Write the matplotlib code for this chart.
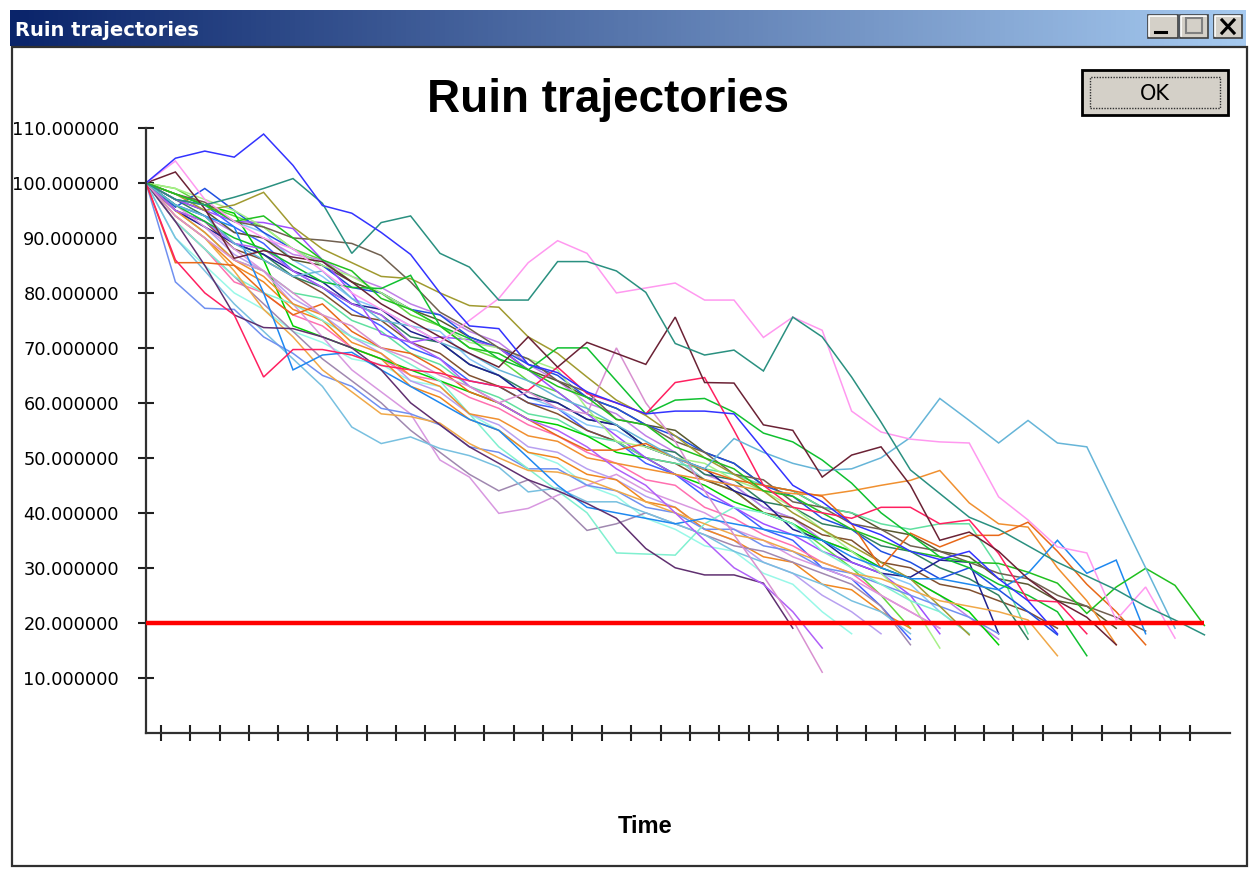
import numpy as np
import matplotlib.pyplot as plt
from matplotlib.patches import Rectangle
from matplotlib.lines import Line2D

plt.rcParams['font.family'] = ['Liberation Sans', 'DejaVu Sans']

W, H = 1250, 869

# trajectories, one value per time step, each stops at its first value below the ruin level
aqua2 = [100, 90, 85, 80, 77, 73, 71, 68, 67, 64, 63, 58, 55, 51, 49, 45, 43, 39, 37, 34, 33, 29, 27, 22, 18]
lavender = [100, 95, 92, 87, 84, 79, 76, 72, 69, 64, 62, 58, 56, 52, 51, 48, 46, 43, 41, 37, 35, 31, 29, 25, 22, 18]
limegreen = [100, 99, 96, 94, 92, 88, 86, 82, 80, 76, 74, 70, 68, 64, 62, 58, 56, 52, 50, 46, 44, 40, 38, 34, 30, 25, 19]
orange3 = [100, 94, 90, 85, 82, 77, 75, 70, 68, 63, 61, 57, 55, 51, 50, 47, 46, 42, 41, 37, 35, 32, 31, 27, 26, 22, 19]
blue3 = [100, 97, 96, 92, 89, 84, 81, 77, 74, 70, 68, 64, 63, 60, 59, 55, 53, 49, 47, 43, 41, 37, 35, 30, 28, 23, 17]
hotpink = [100, 93, 88, 82, 80, 76, 74, 70, 68, 65, 64, 61, 59, 56, 54, 51, 49, 46, 45, 41, 39, 36, 34, 31, 29, 25, 22, 19]
paleblue = [100, 98, 96, 93, 91, 86, 83, 79, 77, 74, 73, 68, 65, 61, 59, 56, 55, 52, 50, 46, 45, 41, 39, 35, 33, 29, 27, 22, 18]
violet = [100, 96, 94, 91, 90, 87, 86, 83, 81, 78, 76, 73, 71, 67, 64, 60, 58, 54, 51, 47, 45, 41, 39, 35, 33, 30, 28, 25, 21, 17]
brown = [100, 95, 93, 88, 86, 83, 80, 76, 75, 71, 69, 65, 63, 60, 58, 55, 53, 50, 49, 46, 44, 40, 39, 36, 35, 31, 30, 27, 26, 24, 22, 19]
seagreen = [100, 97, 94, 89, 87, 83, 81, 78, 76, 72, 71, 67, 65, 62, 60, 57, 56, 52, 51, 47, 46, 42, 41, 38, 37, 34, 33, 30, 28, 25, 17]
darkolive = [100, 97, 95, 91, 90, 86, 85, 82, 80, 77, 75, 72, 70, 66, 64, 61, 59, 56, 55, 51, 49, 45, 44, 41, 40, 37, 36, 33, 32, 28, 27, 24, 23, 19]
mint2 = [100, 95, 91, 86, 84, 80, 79, 75, 73, 69, 67, 63, 61, 58, 57, 54, 53, 50, 49, 48, 47, 45, 44, 41, 40, 38, 37, 38, 38, 30, 18]
navy = [100, 95, 92, 89, 87, 84, 82, 78, 77, 73, 71, 67, 65, 61, 60, 57, 56, 52, 50, 48, 44, 42, 37, 35, 31, 29, 28.3, 31.4, 31, 18]
blue2 = [100, 95.6, 99, 95, 91, 88, 85, 81, 80, 77, 76, 72, 70, 67, 65, 61, 59, 56, 54, 51, 49, 45, 43, 39, 37, 33, 31, 28, 30, 26, 22, 17.8]
green3 = [100, 98, 96, 94.5, 86, 74, 72, 70, 68, 66, 64, 62, 60, 57, 56, 54, 51, 50, 47, 45, 42, 40, 38, 35, 33, 30, 28, 25, 22, 16]
purple2 = [100, 97, 95, 93, 92.8, 91.7, 86, 80, 72.5, 71, 72, 71.5, 70, 66, 62, 58, 54, 50, 47, 44, 41, 38, 36, 33, 31, 29, 25, 18]
lightgreen = [100, 99, 97, 95, 92, 88, 85, 83, 80, 77, 74, 71, 70, 68, 66, 59, 53, 52, 50, 49, 46, 44, 41, 37, 33, 29, 24, 15.4]
mauve = [100, 93, 88, 83, 78, 73, 68, 64, 60, 55, 51, 47, 44, 46, 42, 36.8, 38, 40, 38, 36, 34, 33, 31, 29, 27, 23, 16]
orchid_low = [100, 96, 92, 88, 84, 78, 72, 66, 62, 58, 49.6, 46.5, 39.9, 40.8, 43.2, 45, 47, 44, 42, 40, 37, 35, 32, 30, 28, 25, 22, 19]
lightblue_low = [100, 90, 84, 78, 73, 68, 63, 55.6, 52.6, 53.8, 51.7, 50.4, 48.3, 43.8, 44.5, 42, 42, 40, 38, 36, 33, 31, 29, 27, 24, 22, 18]
cornflower = [100, 82, 77.2, 77, 72, 69, 65, 63, 59, 58, 56, 52, 51, 48, 48, 45, 44, 41, 40, 37, 37, 34, 33, 30, 29, 27, 25, 23, 21, 18]
aqua = [100, 93, 88, 83, 80, 78, 75, 72, 70, 67, 64, 58, 52, 48, 44, 40, 32.7, 32.5, 32.3, 38, 41, 40, 38, 33, 30, 27, 24, 22, 18]
graybrown = [100, 98, 96.5, 93, 92, 90, 89.6, 89, 86.8, 82, 76.5, 73.5, 70, 68, 64, 62, 57, 56, 53, 51, 47, 46, 42, 41, 38, 37, 34, 33, 31, 29, 28, 25, 23, 21, 18.5]
olive = [100, 98, 95, 96, 98.3, 92, 88, 85.5, 83, 82.6, 80, 77.7, 77.4, 72, 69, 64.7, 60.5, 57.7, 54, 50, 47, 44, 40, 37, 34, 31, 28, 23, 17.8]
orange2 = [100, 94, 90, 84, 77, 72, 66, 62, 58, 57.5, 56.3, 52.6, 50, 47.7, 47.4, 46, 44, 42, 40, 38, 36, 35, 33, 31, 29, 28, 26, 24, 23, 22, 20.5, 14]
orange_light = [100, 95, 91, 86, 83, 78, 76, 71, 69, 65, 63, 58, 57, 54, 53, 50, 49, 48, 47, 46, 45, 44, 43.5, 43.2, 44, 45, 45.9, 47.7, 41.8, 38, 37.4, 30, 24, 16]
orange_dark = [100, 85.5, 85.5, 85, 80, 76, 78, 73, 70, 69, 66, 62, 60, 57, 54, 51.4, 51.4, 52.6, 50, 47.8, 46, 45, 44, 43, 38, 30, 36.3, 33.8, 35.9, 35.9, 38.3, 33, 27, 22, 16]
skyblue = [100, 96, 94, 92, 80, 66, 68.7, 69.2, 66, 63, 60, 57, 55, 50, 45, 41, 40, 39, 38, 39, 38, 37, 36, 35, 32, 30, 28, 28, 27, 26, 29, 35, 29, 31.4, 18]
darkpurple = [100, 93, 85, 76, 73.7, 73.5, 72, 70, 66, 60, 56, 52, 49, 46, 44, 41.7, 39, 33.5, 30, 28.7, 28.7, 27.2, 19]
purple_steep = [100, 95, 93, 89, 88, 84, 81, 78, 76, 71, 68, 63, 60, 57, 55, 52, 48, 45, 40, 35, 30, 27, 22, 15.4]
orchid_steep = [100, 94, 90, 86, 84, 80, 76, 74, 70, 68, 65, 63, 60, 62, 59, 58, 70, 60, 53, 44, 36, 28.5, 20.5, 11]
green_mid = [100, 96, 93, 90, 88, 85, 82, 81, 80.8, 83.2, 74, 71.7, 68, 66, 70, 70, 64, 58, 60.5, 60.8, 58.3, 54.5, 52.9, 49.6, 45.4, 40, 36, 32, 30, 27, 25, 22, 14]
green_end = [100, 98, 96, 93, 94, 90, 86, 84, 79, 77, 74, 70, 69, 66, 63, 61, 57, 56, 52, 50, 48, 44, 43, 40, 37, 35, 33, 32, 31, 30.8, 29.2, 27.2, 21.7, 26.5, 29.9, 26.8, 19.5]
crimson = [100, 86, 80, 76, 64.7, 69.7, 69.7, 68.7, 66.8, 66, 65.4, 64, 63, 62.3, 66.5, 61.7, 60, 58, 63.7, 64.6, 55, 45, 41, 40, 39, 41, 41, 38, 38.7, 32.6, 24.1, 23.8, 18]
lightblue_late = [100, 96, 94, 89, 86, 83, 84, 79, 75, 74, 71, 69, 66, 64, 61, 59, 56, 53, 50, 48, 53.5, 51, 49, 47.7, 48, 50, 53.7, 60.8, 56.8, 52.7, 56.8, 52.7, 52, 41, 30, 19]
maroon = [100, 102, 95.3, 86.3, 87.7, 86.5, 85.7, 82, 78, 75, 72, 69, 66.5, 72, 66.5, 71, 69, 67, 75.6, 63.7, 63.6, 56, 55, 46.5, 50.5, 52, 45, 35, 36.5, 33, 28, 24, 21, 16]
pink_high = [100, 104, 97, 93, 90, 88, 84, 80, 77, 74, 71, 75, 79, 85.5, 89.5, 87.2, 80, 80.9, 81.8, 78.7, 78.7, 71.9, 75.6, 73.2, 58.5, 54.7, 53.4, 52.9, 52.7, 42.9, 38.7, 33.8, 32.7, 20.5, 26.5, 17.2]
teal = [100, 97, 96, 97.4, 99, 100.8, 96.3, 87.2, 92.8, 94, 87.2, 84.7, 78.7, 78.7, 85.7, 85.7, 84, 80.1, 70.8, 68.7, 69.6, 65.8, 75.6, 72, 64.7, 56.5, 47.8, 43.5, 39.2, 37, 34, 31, 28.5, 26, 23, 20.5, 17.8]
blue_top = [100, 104.5, 105.8, 104.7, 108.9, 103.2, 95.9, 94.5, 91, 87, 80, 74, 73.5, 67, 65.5, 62, 60, 58, 58.5, 58.5, 58, 51.5, 45, 42, 38, 36, 33, 31.5, 33, 28, 24, 18]

ruin_level = 20
n_steps = 36
y_ticks = [10, 20, 30, 40, 50, 60, 70, 80, 90, 100, 110]

trajectories = [aqua2, lavender, limegreen, orange3, blue3, hotpink, paleblue, violet, brown,
                seagreen, darkolive, mint2, navy, blue2, green3, purple2, lightgreen, mauve,
                orchid_low, lightblue_low, cornflower, aqua, graybrown, olive, orange2,
                orange_light, orange_dark, skyblue, darkpurple, purple_steep, orchid_steep,
                green_mid, green_end, crimson, lightblue_late, maroon, pink_high, teal, blue_top]
colors = ['#98f8e8', '#b8a0f0', '#60d840', '#f08820', '#4060ff', '#ff70b0', '#88c8f8', '#c080e8', '#805030',
          '#308060', '#585830', '#60e0a0', '#202090', '#2050e0', '#00d000', '#a050ff', '#a8f088', '#a088b0',
          '#d898e0', '#78c0e0', '#7090f0', '#80f0d0', '#706050', '#a09a30', '#f0a848',
          '#f09030', '#e86818', '#1e88f0', '#603070', '#b060f8', '#d890d0',
          '#10c030', '#20c020', '#ff2060', '#66b5d8', '#6b2235', '#ff99f0', '#2a9080', '#3333ff']


def fx(px):
    return px / W


def fy(py):
    return 1 - py / H


fig = plt.figure(figsize=(12.5, 8.69), dpi=100)
fig.patch.set_facecolor('white')

# window title bar
bar = fig.add_axes([fx(10), fy(46), fx(1236), 36 / H])
grad = np.linspace(0, 1, 256).reshape(1, -1)
c0 = np.array([10, 36, 106]) / 255
c1 = np.array([166, 202, 240]) / 255
img = c0[None, None, :] * (1 - grad[..., None]) + c1[None, None, :] * grad[..., None]
bar.imshow(img, aspect='auto', extent=[0, 1, 0, 1])
bar.set_axis_off()
fig.text(fx(15), fy(36), 'Ruin trajectories', color='white', fontsize=14,
         fontweight='bold', family=['DejaVu Sans'])


def button(x0, y0, x1, y1):
    fig.add_artist(Rectangle((fx(x0), fy(y1)), fx(x1 - x0), (y1 - y0) / H, transform=fig.transFigure,
                             facecolor='#d4d0c8', edgecolor='#404040', lw=1.2))
    fig.add_artist(Line2D([fx(x0 + 1), fx(x0 + 1), fx(x1 - 2)], [fy(y1 - 2), fy(y0 + 1), fy(y0 + 1)],
                          color='white', lw=1.2))


button(1148, 15, 1178, 38)
button(1180, 15, 1208, 38)
button(1214, 15, 1242, 38)
fig.add_artist(Line2D([fx(1155), fx(1166)], [fy(32), fy(32)], color='black', lw=2.2))
fig.add_artist(Rectangle((fx(1186), fy(33)), fx(16), 15 / H, transform=fig.transFigure,
                         facecolor='none', edgecolor='#808080', lw=1.5))
fig.add_artist(Line2D([fx(1222), fx(1234)], [fy(20), fy(33)], color='black', lw=2.2))
fig.add_artist(Line2D([fx(1222), fx(1234)], [fy(33), fy(20)], color='black', lw=2.2))

# window client border
fig.add_artist(Rectangle((fx(12), fy(866)), fx(1235), 819 / H, transform=fig.transFigure,
                         facecolor='none', edgecolor='#303030', lw=1.6))

# OK button
fig.add_artist(Rectangle((fx(1082), fy(115)), fx(146), 45 / H, transform=fig.transFigure,
                         facecolor='#d4d0c8', edgecolor='black', lw=2))
fig.add_artist(Rectangle((fx(1090), fy(108)), fx(130), 31 / H, transform=fig.transFigure,
                         facecolor='none', edgecolor='#303030', lw=1, linestyle=(0, (1, 1))))
fig.text(fx(1155), fy(100), 'OK', ha='center', va='baseline', fontsize=15, family=['DejaVu Sans'])

# chart
ax = fig.add_axes([fx(146), fy(732.7), fx(1230 - 146), (732.7 - 128) / H])
for vals, col in zip(trajectories, colors):
    ax.plot(range(len(vals)), vals, color=col, lw=1.1, solid_joinstyle='miter')
ax.hlines(ruin_level, 0, n_steps, color='#ff0000', lw=3.2, zorder=5)

ax.set_xlim(0, 36.87)
ax.set_ylim(0, 110)
ax.set_xticks(np.arange(n_steps) + 0.5)
ax.set_xticklabels([])
ax.set_yticks(y_ticks)
ax.set_yticklabels([f'{v:.6f}' for v in y_ticks], family=['DejaVu Sans'], fontsize=12.8)
ax.tick_params(direction='inout', length=11, width=1.5, color='#202020', pad=14)
for s in ['top', 'right']:
    ax.spines[s].set_visible(False)
for s in ['left', 'bottom']:
    ax.spines[s].set_linewidth(1.6)
    ax.spines[s].set_color('#303030')
ax.patch.set_alpha(0)

fig.text(fx(608), fy(112), 'Ruin trajectories', ha='center', va='baseline', fontsize=33, fontweight='bold')
fig.text(fx(645), fy(833), 'Time', ha='center', va='baseline', fontsize=17, fontweight='bold')

fig.savefig('out.png', dpi=100)
